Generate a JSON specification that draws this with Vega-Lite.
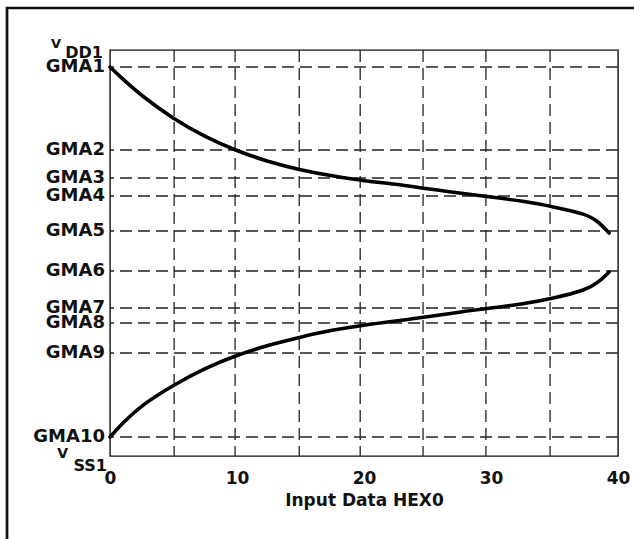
{
  "$schema": "https://vega.github.io/schema/vega-lite/v6.json",
  "width": 508,
  "height": 406,
  "autosize": "none",
  "padding": {"left": 110, "top": 50, "right": 16, "bottom": 83},
  "background": "white",
  "config": {"view": {"stroke": "#111", "strokeWidth": 1.4}},
  "datasets": {
    "levels": [
      {"label": "GMA1", "v": 389},
      {"label": "GMA2", "v": 306},
      {"label": "GMA3", "v": 278},
      {"label": "GMA4", "v": 260},
      {"label": "GMA5", "v": 225},
      {"label": "GMA6", "v": 185},
      {"label": "GMA7", "v": 148},
      {"label": "GMA8", "v": 133},
      {"label": "GMA9", "v": 103},
      {"label": "GMA10", "v": 19}
    ],
    "vgrid": [
      {"x": 5.05}, {"x": 9.85}, {"x": 14.9}, {"x": 19.7}, {"x": 24.65}, {"x": 29.6}, {"x": 34.65}
    ],
    "frame": [
      {"x": -8.11, "x2": 42, "y": 448, "y2": -92}
    ],
    "supply": [
      {"main": "V", "sub": "DD1", "v": 406},
      {"main": "V", "sub": "SS1", "v": 0}
    ],
    "curves": [
      {"s": "upper", "x": 0, "y": 389},
      {"s": "upper", "x": 1, "y": 377},
      {"s": "upper", "x": 2.5, "y": 360},
      {"s": "upper", "x": 5, "y": 337},
      {"s": "upper", "x": 7.5, "y": 319},
      {"s": "upper", "x": 10, "y": 305},
      {"s": "upper", "x": 12.5, "y": 294},
      {"s": "upper", "x": 15, "y": 286},
      {"s": "upper", "x": 17.5, "y": 280},
      {"s": "upper", "x": 20, "y": 275},
      {"s": "upper", "x": 22.5, "y": 272},
      {"s": "upper", "x": 25, "y": 267},
      {"s": "upper", "x": 27.5, "y": 263},
      {"s": "upper", "x": 30, "y": 259},
      {"s": "upper", "x": 32.5, "y": 255},
      {"s": "upper", "x": 35, "y": 249},
      {"s": "upper", "x": 37.5, "y": 242},
      {"s": "upper", "x": 38.5, "y": 234},
      {"s": "upper", "x": 39.3, "y": 223},
      {"s": "lower", "x": 0, "y": 19},
      {"s": "lower", "x": 1, "y": 33},
      {"s": "lower", "x": 2.5, "y": 51},
      {"s": "lower", "x": 5, "y": 71},
      {"s": "lower", "x": 7.5, "y": 88},
      {"s": "lower", "x": 10, "y": 101},
      {"s": "lower", "x": 12.5, "y": 111},
      {"s": "lower", "x": 15, "y": 119},
      {"s": "lower", "x": 17.5, "y": 126},
      {"s": "lower", "x": 20, "y": 131},
      {"s": "lower", "x": 22.5, "y": 135},
      {"s": "lower", "x": 25, "y": 139},
      {"s": "lower", "x": 27.5, "y": 144},
      {"s": "lower", "x": 30, "y": 148},
      {"s": "lower", "x": 32.5, "y": 152},
      {"s": "lower", "x": 35, "y": 158},
      {"s": "lower", "x": 37.5, "y": 166},
      {"s": "lower", "x": 38.5, "y": 174},
      {"s": "lower", "x": 39.3, "y": 184}
    ]
  },
  "layer": [
    {
      "data": {"name": "frame"},
      "mark": {"type": "rect", "fill": null, "filled": false, "stroke": "#111", "strokeWidth": 2.7},
      "encoding": {
        "x": {"field": "x", "type": "quantitative", "scale": {"domain": [0, 40], "nice": false, "zero": false}, "axis": {
          "values": [0, 10, 20, 30, 40],
          "title": "Input Data HEX0",
          "grid": false, "domain": false, "ticks": false, "tickSize": 0,
          "labelPadding": 14,
          "labelFont": "DejaVu Sans", "labelFontWeight": "bold", "labelFontSize": 17, "labelColor": "#111",
          "labelFlush": false, "labelOverlap": false,
          "titleFont": "DejaVu Sans", "titleFontWeight": "bold", "titleFontSize": 17, "titleColor": "#111",
          "titlePadding": 6
        }},
        "x2": {"field": "x2"},
        "y": {"field": "y", "type": "quantitative", "scale": {"domain": [0, 406], "nice": false, "zero": false}, "axis": null},
        "y2": {"field": "y2"}
      }
    },
    {
      "data": {"name": "levels"},
      "mark": {"type": "rule", "stroke": "#222", "strokeWidth": 1.3, "strokeDash": [12, 6]},
      "encoding": {"y": {"field": "v", "type": "quantitative"}}
    },
    {
      "data": {"name": "vgrid"},
      "mark": {"type": "rule", "stroke": "#222", "strokeWidth": 1.3, "strokeDash": [12, 6]},
      "encoding": {"x": {"field": "x", "type": "quantitative"}}
    },
    {
      "data": {"name": "curves"},
      "mark": {"type": "line", "stroke": "#000", "strokeWidth": 3.6, "interpolate": "basis", "strokeCap": "round"},
      "encoding": {
        "x": {"field": "x", "type": "quantitative"},
        "y": {"field": "y", "type": "quantitative"},
        "detail": {"field": "s"}
      }
    },
    {
      "data": {"name": "levels"},
      "mark": {"type": "text", "align": "right", "baseline": "middle", "dx": -5, "font": "DejaVu Sans", "fontWeight": "bold", "fontSize": 18, "fill": "#111"},
      "encoding": {
        "x": {"datum": 0, "type": "quantitative"},
        "y": {"field": "v", "type": "quantitative"},
        "text": {"field": "label"}
      }
    },
    {
      "data": {"name": "supply"},
      "transform": [{"filter": "datum.sub == 'DD1'"}],
      "mark": {"type": "text", "align": "right", "baseline": "alphabetic", "dx": -7, "dy": 8, "font": "DejaVu Sans", "fontWeight": "bold", "fontSize": 16, "fill": "#111"},
      "encoding": {
        "x": {"datum": 0, "type": "quantitative"},
        "y": {"field": "v", "type": "quantitative"},
        "text": {"field": "sub"}
      }
    },
    {
      "data": {"name": "supply"},
      "transform": [{"filter": "datum.sub == 'DD1'"}],
      "mark": {"type": "text", "align": "right", "baseline": "alphabetic", "dx": -49, "dy": -2, "font": "DejaVu Sans", "fontWeight": "bold", "fontSize": 13, "fill": "#111"},
      "encoding": {
        "x": {"datum": 0, "type": "quantitative"},
        "y": {"field": "v", "type": "quantitative"},
        "text": {"field": "main"}
      }
    },
    {
      "data": {"name": "supply"},
      "transform": [{"filter": "datum.sub == 'SS1'"}],
      "mark": {"type": "text", "align": "right", "baseline": "alphabetic", "dx": -3, "dy": 15, "font": "DejaVu Sans", "fontWeight": "bold", "fontSize": 16, "fill": "#111"},
      "encoding": {
        "x": {"datum": 0, "type": "quantitative"},
        "y": {"field": "v", "type": "quantitative"},
        "text": {"field": "sub"}
      }
    },
    {
      "data": {"name": "supply"},
      "transform": [{"filter": "datum.sub == 'SS1'"}],
      "mark": {"type": "text", "align": "right", "baseline": "alphabetic", "dx": -42, "dy": 2, "font": "DejaVu Sans", "fontWeight": "bold", "fontSize": 14, "fill": "#111"},
      "encoding": {
        "x": {"datum": 0, "type": "quantitative"},
        "y": {"field": "v", "type": "quantitative"},
        "text": {"field": "main"}
      }
    }
  ]
}
